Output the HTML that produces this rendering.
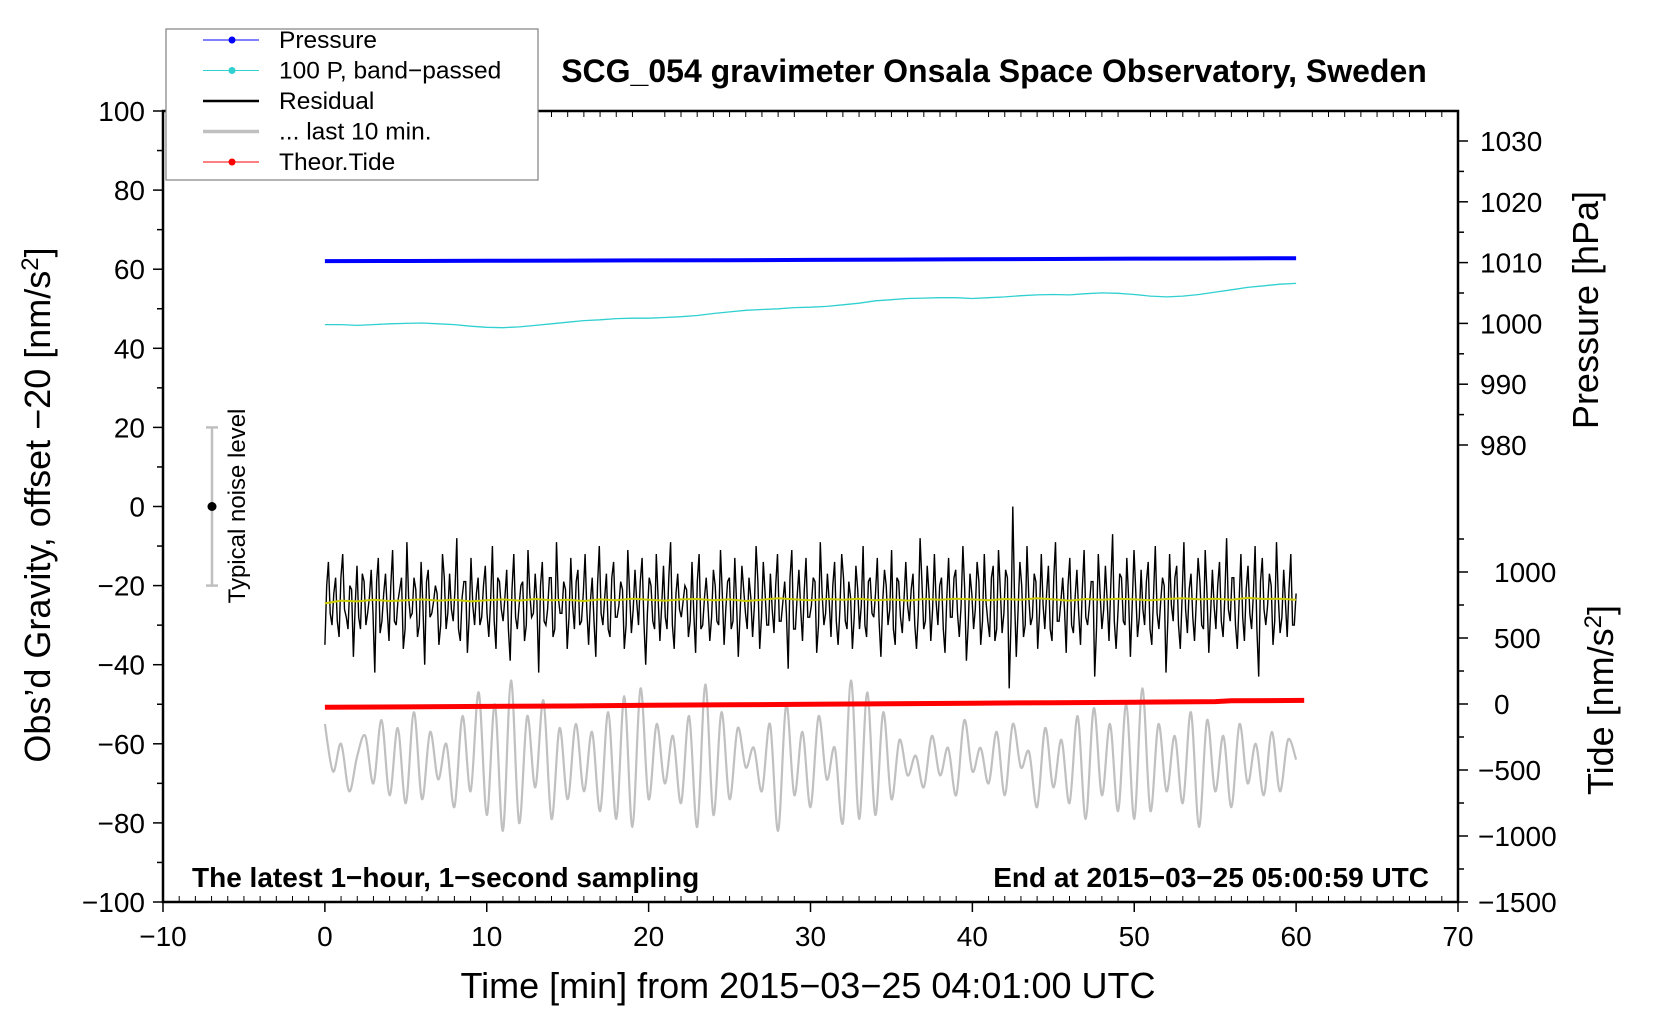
<!DOCTYPE html>
<html><head><meta charset="utf-8"><style>
html,body{margin:0;padding:0;background:#fff;}
svg{display:block;font-family:"Liberation Sans",Arial,sans-serif;}
</style></head><body>
<svg id="c" width="1660" height="1020" viewBox="0 0 1660 1020" xmlns="http://www.w3.org/2000/svg"></svg>
<script>
// ---- data ----
const xTicks=[-10,0,10,20,30,40,50,60,70];
const gTicks=[-100,-80,-60,-40,-20,0,20,40,60,80,100];
const pTicks=[980,990,1000,1010,1020,1030];
const tTicks=[-1500,-1000,-500,0,500,1000];
const pressureHpa=[1010.25,1010.27,1010.3,1010.33,1010.36,1010.4,1010.45,1010.5,1010.55,1010.6,1010.65,1010.68,1010.72];
const bandPassed=[46,46,45.8,46,46.2,46.3,46.4,46.2,46,45.6,45.3,45.2,45.4,45.8,46.2,46.6,47,47.2,47.5,47.6,47.6,47.8,48,48.3,48.8,49.2,49.6,49.8,50,50.3,50.4,50.6,51,51.4,52,52.3,52.6,52.7,52.8,52.8,52.6,52.8,53,53.3,53.5,53.6,53.5,53.8,54,53.9,53.6,53.2,53,53.2,53.6,54.2,54.8,55.4,55.8,56.2,56.4];
const residual=[-35,-14,-30,-18,-33,-12,-28,-20,-38,-15,-31,-19,-27,-16,-42,-13,-29,-17,-34,-11,-30,-21,-36,-9,-28,-18,-33,-14,-40,-16,-27,-20,-35,-12,-31,-17,-29,-8,-34,-19,-37,-13,-30,-18,-28,-15,-33,-10,-36,-19,-29,-16,-39,-12,-31,-20,-34,-11,-28,-17,-42,-14,-30,-18,-33,-9,-27,-19,-36,-13,-31,-16,-29,-12,-35,-18,-38,-10,-30,-17,-33,-14,-28,-19,-36,-11,-32,-16,-30,-13,-40,-18,-29,-12,-34,-15,-31,-9,-36,-17,-28,-20,-33,-14,-37,-12,-30,-18,-34,-16,-29,-11,-35,-19,-31,-13,-38,-15,-27,-18,-33,-10,-36,-14,-30,-17,-32,-12,-29,-19,-41,-11,-31,-16,-34,-13,-28,-18,-37,-9,-30,-17,-33,-14,-35,-12,-29,-19,-36,-15,-31,-10,-33,-18,-28,-13,-38,-16,-30,-11,-35,-19,-32,-14,-29,-17,-36,-8,-31,-15,-34,-12,-30,-18,-37,-13,-28,-16,-33,-10,-39,-17,-31,-14,-35,-12,-29,-18,-34,-11,-32,-16,-46,-0,-38,-14,-33,-10,-30,-17,-36,-12,-31,-15,-34,-9,-29,-18,-37,-13,-32,-16,-35,-11,-30,-19,-43,-12,-31,-15,-34,-7,-36,-17,-29,-13,-38,-11,-33,-16,-30,-14,-35,-10,-31,-18,-42,-12,-29,-15,-36,-9,-32,-17,-34,-13,-30,-11,-37,-16,-31,-14,-33,-8,-29,-18,-36,-12,-34,-15,-31,-10,-43,-13,-30,-17,-35,-9,-32,-16,-33,-12,-30];
const residualB=[-20,-27,-22,-29,-18,-26,-31,-21,-25,-28,-17,-30,-23,-27,-19,-32,-22,-26,-20,-29,-24,-18,-31,-23,-27,-21,-30,-25,-19,-28,-24,-22,-30,-18,-27,-26,-21,-31,-23,-19,-28,-25,-22,-30,-20,-27,-24,-29,-18,-26,-23,-31,-21,-28,-25,-19,-30,-22,-27,-24,-20,-29,-26,-18,-31,-23,-27,-21,-28,-25,-19,-30,-22,-26,-24,-29,-20,-27,-23,-31,-18,-28,-25,-21,-30,-22,-26,-24,-19,-29,-27,-20,-31,-23,-25,-28,-18,-30,-22,-26,-24,-21,-29,-27,-19,-31,-23,-25,-28,-20,-30,-22,-26,-18,-29,-24,-27,-21,-31,-23,-25,-19,-28,-22,-30,-26,-20,-29,-24,-27,-18,-31,-23,-26,-21,-28,-25,-19,-30,-22,-27,-24,-20,-29,-26,-18,-31,-23,-28,-21,-25,-30,-19,-27,-22,-29,-24,-20,-26,-31,-18,-28,-23,-25,-21,-30,-27,-19,-29,-22,-26,-24,-20,-31,-23,-28,-18,-27,-25,-21,-30,-22,-26,-19,-29,-24,-33,-15,-31,-21,-27,-18,-29,-24,-26,-20,-30,-23,-28,-19,-27,-25,-22,-31,-18,-29,-24,-26,-20,-30,-23,-27,-21,-28,-25,-19,-31,-22,-26,-24,-20,-29,-27,-18,-30,-23,-25,-21,-28,-26,-19,-31,-22,-27,-24,-20,-29,-25,-18,-30,-23,-26,-21,-28,-24,-19,-31,-22,-27,-25,-20,-29,-23,-26,-18,-30,-24,-28,-21,-27,-22,-31,-19,-26,-25,-20,-29,-23,-28,-24,-21,-30,-22,-27];
const residualSmooth=[-24.5,-23.8,-24,-23.6,-23.9,-23.7,-23.5,-23.8,-23.6,-24,-23.7,-23.5,-23.8,-23.4,-23.7,-23.6,-23.9,-23.5,-23.7,-23.3,-23.6,-23.8,-23.5,-23.4,-23.7,-23.5,-23.9,-23.6,-23.2,-23.5,-23.7,-23.4,-23.6,-23.3,-23.7,-23.5,-23.8,-23.4,-23.6,-23.3,-23.5,-23.7,-23.4,-23.6,-23.2,-23.5,-23.8,-23.4,-23.6,-23.3,-23.5,-23.7,-23.4,-23.2,-23.5,-23.3,-23.6,-23.1,-23.4,-23.3,-23.6];
const last10=[-55,-67,-60,-72,-63,-58,-70,-54,-73,-56,-75,-52,-74,-57,-69,-60,-76,-53,-72,-47,-78,-50,-82,-44,-80,-53,-71,-49,-79,-56,-74,-55,-72,-57,-77,-52,-79,-48,-81,-46,-74,-55,-70,-58,-75,-53,-81,-45,-78,-52,-74,-56,-66,-61,-72,-55,-82,-50,-73,-57,-76,-53,-69,-61,-80,-44,-79,-47,-78,-52,-74,-59,-68,-63,-71,-58,-68,-61,-73,-54,-67,-61,-70,-57,-73,-55,-66,-62,-76,-56,-71,-59,-75,-53,-79,-51,-73,-55,-77,-50,-79,-46,-77,-55,-72,-58,-75,-52,-81,-54,-72,-58,-76,-55,-70,-60,-73,-57,-72,-59,-64];
const tideT=[0,5,10,15,20,25,30,35,40,45,50,55,56,60.5];
const tideVal=[-25,-22,-18,-15,-10,-6,-2,2,6,10,14,18,24,27];

// ---- geometry ----
const L=163,R=1458,T=111,B=902;
const X=v=>L+(v+10)*(R-L)/80;
const YG=v=>B-(v+100)*(B-T)/200;
const YP=v=>141+(1030-v)*6.08;
const YT=v=>572+(1000-v)*0.132;
const svg=document.getElementById('c');
const NS='http://www.w3.org/2000/svg';
function mk(tag,attrs,parent){const e=document.createElementNS(NS,tag);for(const k in attrs)e.setAttribute(k,attrs[k]);(parent||svg).appendChild(e);return e;}
function txt(s,attrs){const e=mk('text',attrs);e.textContent=s;return e;}

// frame
const frame=mk('rect',{x:L,y:T,width:R-L,height:B-T,fill:'none',stroke:'#000','stroke-width':2.5});



// x ticks
const gx=mk('g',{});


for(let m=-10;m<=70;m++){
  const x=X(m);
  if(m%10===0){mk('line',{x1:x,y1:B,x2:x,y2:B+10,stroke:'#000','stroke-width':1.5},gx);}
  else{mk('line',{x1:x,y1:B,x2:x,y2:B-6,stroke:'#000','stroke-width':1},gx);mk('line',{x1:x,y1:T,x2:x,y2:T+6,stroke:'#000','stroke-width':1},gx);}
}
xTicks.forEach(v=>{const t=txt(String(v).replace('-','\u2212'),{x:X(v),y:B+44,'font-size':28,'text-anchor':'middle'});

});

// left ticks
for(let g=-100;g<=100;g+=10){const y=YG(g);mk('line',{x1:L,y1:y,x2:L-(g%20===0?10:6),y2:y,stroke:'#000','stroke-width':1.5});}
gTicks.forEach(v=>{const t=txt(String(v).replace('-','\u2212'),{x:L-18,y:YG(v)+10,'font-size':28,'text-anchor':'end'});

});

// right pressure ticks
for(let p=975;p<=1035;p+=5){const y=YP(p);if(y<T||y>470)continue;mk('line',{x1:R,y1:y,x2:R+(p%10===0?10:6),y2:y,stroke:'#000','stroke-width':1.5});}
pTicks.forEach(v=>{const t=txt(String(v),{x:R+22,y:YP(v)+10,'font-size':28});

});
// right tide ticks
for(let v=-1500;v<=1250;v+=250){const y=YT(v);if(y>B+1||y<520)continue;mk('line',{x1:R,y1:y,x2:R+(v%500===0?10:6),y2:y,stroke:'#000','stroke-width':1.5});}
tTicks.forEach(v=>{const t=txt(String(v).replace('-','\u2212'),{x:R+(v<0?20:36),y:YT(v)+10,'font-size':28});

});

// titles
let e;
e=txt('SCG_054 gravimeter Onsala Space Observatory, Sweden',{x:994,y:82,'font-size':32,'font-weight':'bold','text-anchor':'middle'});

e=txt('Time [min] from 2015\u221203\u221225 04:01:00 UTC',{x:808,y:998,'font-size':36,'text-anchor':'middle'});

e=mk('text',{x:0,y:0,'font-size':36,'text-anchor':'middle',transform:'translate(50,505) rotate(-90)'});
e.innerHTML='Obs\u2019d Gravity, offset \u221220 [nm/s<tspan dy="-12" font-size="24">2</tspan><tspan dy="12">]</tspan>';

e=txt('Pressure [hPa]',{x:0,y:0,'font-size':36,'text-anchor':'middle',transform:'translate(1598,310) rotate(-90)'});

e=mk('text',{x:0,y:0,'font-size':36,'text-anchor':'middle',transform:'translate(1613,700) rotate(-90)'});
e.innerHTML='Tide [nm/s<tspan dy="-12" font-size="24">2</tspan><tspan dy="12">]</tspan>';

e=txt('The latest 1\u2212hour, 1\u2212second sampling',{x:192,y:887,'font-size':28,'font-weight':'bold'});

e=txt('End at 2015\u221203\u221225 05:00:59 UTC',{x:1429,y:887,'font-size':28,'font-weight':'bold','text-anchor':'end'});


// noise level
const nz=mk('g',{});


mk('line',{x1:212,y1:YG(20),x2:212,y2:YG(-20),stroke:'#c0c0c0','stroke-width':2.5},nz);
mk('line',{x1:206,y1:YG(20),x2:218,y2:YG(20),stroke:'#c0c0c0','stroke-width':2.5},nz);
mk('line',{x1:206,y1:YG(-20),x2:218,y2:YG(-20),stroke:'#c0c0c0','stroke-width':2.5},nz);
mk('circle',{cx:212,cy:YG(0),r:4.5,fill:'#000'},nz);
mk('text',{x:0,y:0,'font-size':24,'text-anchor':'middle',transform:'translate(245,506) rotate(-90)'},nz).textContent='Typical noise level';

// series
function poly(vals,xs,yf,attrs,name){const pts=vals.map((v,i)=>X(xs(i)).toFixed(1)+','+yf(v).toFixed(1)).join(' ');
const p=mk('polyline',Object.assign({points:pts,fill:'none'},attrs));

return p;}
// smooth gray curve (Catmull-Rom)
(function(){const n=last10.length;const P=last10.map((v,i)=>[X(i*60/(n-1)),YG(v)]);
let d='M'+P[0][0].toFixed(1)+','+P[0][1].toFixed(1);
for(let i=0;i<n-1;i++){const p0=P[Math.max(0,i-1)],p1=P[i],p2=P[i+1],p3=P[Math.min(n-1,i+2)];
const c1=[p1[0]+(p2[0]-p0[0])/6,p1[1]+(p2[1]-p0[1])/6],c2=[p2[0]-(p3[0]-p1[0])/6,p2[1]-(p3[1]-p1[1])/6];
d+=' C'+c1[0].toFixed(1)+','+c1[1].toFixed(1)+' '+c2[0].toFixed(1)+','+c2[1].toFixed(1)+' '+p2[0].toFixed(1)+','+p2[1].toFixed(1);}
const p=mk('path',{d:d,fill:'none',stroke:'#c0c0c0','stroke-width':2.2});

})();
// residual: interleave two arrays for density
const resAll=[];residual.forEach((v,i)=>{resAll.push(v);if(i<residualB.length)resAll.push(residualB[i]);});
poly(resAll,i=>i*60/(resAll.length-1),YG,{stroke:'#000','stroke-width':1.4},'residual-series');
poly(residualSmooth,i=>i,YG,{stroke:'#cccc00','stroke-width':2},'residual-smoothed-series');
poly(bandPassed,i=>i,YG,{stroke:'#30d0d0','stroke-width':1.3},'band-passed-pressure-series');
poly(pressureHpa,i=>i*60/(pressureHpa.length-1),YP,{stroke:'#0000ff','stroke-width':4},'pressure-series');
const tp=tideVal.map((v,i)=>X(tideT[i]).toFixed(1)+','+YT(v).toFixed(1)).join(' ');
e=mk('polyline',{points:tp,fill:'none',stroke:'#ff0000','stroke-width':5});


// legend
const lg=mk('g',{});


mk('rect',{x:166,y:29,width:372,height:151,fill:'#fff',stroke:'#808080','stroke-width':1.2},lg);
const leg=[['Pressure','#0000ff',1,true],['100 P, band\u2212passed','#30d0d0',1,true],['Residual','#000',2.5,false],['... last 10 min.','#c0c0c0',3.5,false],['Theor.Tide','#ff0000',1,true]];
leg.forEach((d,i)=>{const y=40+i*30.5;
 const g=mk('g',{},lg);
 
 
 mk('line',{x1:203,y1:y,x2:259,y2:y,stroke:d[1],'stroke-width':d[2]},g);
 if(d[3])mk('circle',{cx:232,cy:y,r:3.5,fill:d[1]},g);
 mk('text',{x:279,y:y+8,'font-size':24.5},g).textContent=d[0];});
</script>
</body></html>
